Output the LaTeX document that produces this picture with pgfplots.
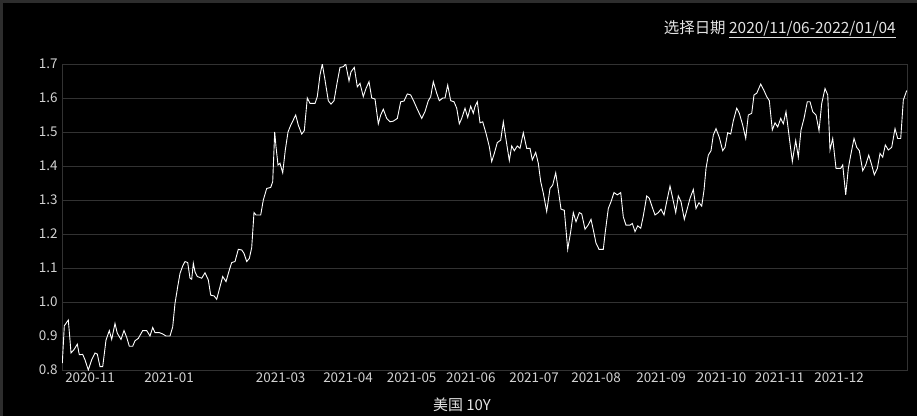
\documentclass[border=0pt]{standalone}
\usepackage{pgfplots}
\pgfplotsset{compat=1.18}
\usepackage{fontspec}
\setmainfont{Noto Sans CJK SC}
\definecolor{bgframe}{RGB}{45,45,45}
\definecolor{gridc}{RGB}{50,50,50}
\definecolor{ticktext}{RGB}{210,210,210}
\definecolor{titletext}{RGB}{228,228,228}
\begin{document}
\begin{tikzpicture}[x=1bp,y=1bp]
\fill[bgframe] (0,0) rectangle (917,416);
\fill[black] (3,0) rectangle (917,413);
\node[anchor=east, text=titletext, font=\fontsize{15.5}{18}\selectfont, inner sep=0pt] at (896,387) {选择日期 \underline{2020/11/06-2022/01/04}};
\node[text=titletext, font=\fontsize{15}{18}\selectfont, inner sep=0pt] at (462,11) {美国 10Y};
\begin{axis}[
  at={(62bp,46bp)}, anchor=south west,
  scale only axis, width=845bp, height=306bp,
  xmin=62, xmax=907, ymin=0.8, ymax=1.7,
  axis line style={gridc, line width=0.8bp},
  ytick={0.8,0.9,1.0,1.1,1.2,1.3,1.4,1.5,1.6,1.7},
  /pgf/number format/fixed, /pgf/number format/fixed zerofill, /pgf/number format/precision=1, /pgf/number format/assume math mode=true,
  yticklabel style={text=ticktext, font=\fontsize{13.5}{16}\selectfont, xshift=-1bp},
  xtick={90,169,280.7,348,411.7,470.8,534,596,661,721.6,779.6,839},
  xticklabels={2020-11,2021-01,2021-03,2021-04,2021-05,2021-06,2021-07,2021-08,2021-09,2021-10,2021-11,2021-12},
  xticklabel style={text=ticktext, font=\fontsize{13.5}{16}\selectfont, yshift=1bp},
  major tick length=0pt,
  ymajorgrids, grid style={gridc, line width=0.8bp},
]
\addplot[white, line width=0.9bp, mark=none] coordinates {
(62.3,0.82)(64.3,0.93)(68.3,0.947)(70,0.888)(71,0.85)(74,0.86)(77.3,0.876)(79.3,0.845)(82.7,0.846)(85,0.83)(88.3,0.80)(91.7,0.83)(95,0.85)(97.3,0.847)(100,0.81)(102.7,0.81)(106,0.888)(109.3,0.916)(111.7,0.89)(115,0.937)(117.3,0.908)(121,0.89)(124,0.916)(126.7,0.896)(129.3,0.87)(132.7,0.87)(135,0.886)(138.3,0.893)(142.7,0.916)(146.7,0.916)(150,0.90)(152.7,0.925)(155,0.91)(159.3,0.91)(162.7,0.906)(166,0.90)(170,0.90)(172.7,0.927)(175,0.996)(177.7,1.045)(180,1.084)(182.7,1.106)(185,1.119)(187.7,1.116)(190,1.07)(191.7,1.067)(193.3,1.114)(195,1.089)(197.3,1.075)(201.7,1.07)(205,1.086)(208.3,1.065)(210.7,1.02)(214,1.018)(216.7,1.008)(220,1.045)(222.7,1.075)(226,1.06)(229.3,1.094)(231.7,1.116)(235,1.119)(238.3,1.155)(241.7,1.153)(244,1.143)(246.7,1.119)(249.3,1.128)(251.7,1.16)(254,1.263)(256,1.256)(260.7,1.256)(263.3,1.30)(266.7,1.334)(270.7,1.337)(272.7,1.354)(274.7,1.50)(276,1.457)(278,1.403)(280,1.408)(282.7,1.38)(285.3,1.447)(288,1.50)(290.7,1.52)(295.7,1.55)(298.3,1.52)(301.7,1.494)(304.3,1.504)
(307.3,1.60)(310,1.584)(315,1.584)(317.3,1.604)(320,1.668)(322.3,1.70)(325,1.653)(328.3,1.592)(331,1.582)(334,1.592)(337.3,1.648)(340,1.69)(343.3,1.692)(345.7,1.70)(349,1.65)(351,1.677)(354.3,1.69)(357.3,1.633)(360,1.643)(363.3,1.604)(366,1.628)(369,1.648)(371.7,1.60)(375,1.597)(378.3,1.524)(380.7,1.55)(383.3,1.567)(386.7,1.54)(390,1.53)(393.3,1.532)(397.3,1.54)(400.7,1.589)(404,1.591)(407.3,1.612)(410.7,1.609)(414,1.589)(417.3,1.567)(421.7,1.54)(425,1.56)(428.3,1.592)(430.7,1.604)(433.3,1.648)(436.7,1.614)(439.3,1.592)(442.7,1.60)(445,1.60)(447.7,1.638)(450.7,1.592)(454,1.589)(456.7,1.57)(459.3,1.524)(461.7,1.54)(465,1.57)(467.7,1.543)(470.7,1.576)(473.3,1.555)(475,1.575)(477.3,1.589)(480,1.527)(482.7,1.53)(486,1.496)(489.3,1.457)(491.7,1.413)(494.3,1.437)(497.3,1.469)(500.7,1.476)(503.3,1.53)(506,1.478)(509.3,1.416)(511.7,1.459)(514.3,1.445)(517.3,1.459)(520,1.452)(523.3,1.498)(526.7,1.452)(530,1.452)(532.3,1.418)(535.7,1.44)(538.3,1.408)(540.7,1.354)(543.3,1.32)(546.7,1.266)(550,1.334)(552.7,1.344)(555.7,1.38)(558.3,1.329)(561,1.273)(564.3,1.27)(567.7,1.155)(570.7,1.207)(573.3,1.263)(576,1.236)(579.3,1.263)(581.7,1.259)(585,1.214)(588.3,1.227)(591,1.243)(593.3,1.212)(596,1.173)(599,1.155)
(603.3,1.155)(605,1.20)(608.3,1.275)(611,1.295)(614,1.322)(617.3,1.315)(620.7,1.322)(623.3,1.25)(626,1.226)(630,1.226)(632.3,1.231)(635,1.207)(637.7,1.224)(640.7,1.217)(643.3,1.253)(646.7,1.312)(649.3,1.305)(652.7,1.275)(655,1.256)(658.3,1.263)(661,1.273)(664,1.256)(666.7,1.295)(670,1.341)(672.7,1.305)(675.7,1.263)(678.3,1.312)(681,1.295)(684.3,1.243)(687.3,1.275)(690,1.305)(693.3,1.331)(696,1.275)(699,1.292)(701.7,1.282)(704,1.329)(706,1.393)(708.3,1.432)(711,1.445)(713.3,1.491)(716,1.51)(719.3,1.484)(722.7,1.445)(725,1.455)(727.7,1.498)(730.7,1.494)(733.3,1.533)(736.7,1.57)(739.3,1.555)(742.7,1.52)(745.7,1.481)(748.3,1.55)(751.7,1.555)(754,1.609)(756.7,1.614)(760.7,1.641)(764,1.622)(766.7,1.604)(769.3,1.592)(772.3,1.506)(775,1.527)(777.7,1.515)(780.7,1.54)(783.3,1.524)(786,1.56)(789,1.49)(792.3,1.413)(795.7,1.475)(798.3,1.426)(801,1.506)(804,1.54)(807.3,1.589)(810,1.589)(812.7,1.56)(816,1.55)(819,1.504)(821.7,1.584)(825,1.628)(827.7,1.609)(830,1.447)(832.7,1.481)(836,1.393)(840.7,1.393)(842.7,1.403)(845.7,1.315)(848.3,1.393)(850.7,1.432)(854,1.481)(856.7,1.455)(859.3,1.445)(862.7,1.386)(865.7,1.403)(868.7,1.432)(871.7,1.403)(874.3,1.374)(877.3,1.393)(880,1.437)(882.7,1.426)(885.3,1.462)(888.3,1.447)(891.7,1.455)(895,1.51)(897.7,1.481)(900.7,1.481)(903.3,1.594)(906.7,1.622)
};
\end{axis}
\end{tikzpicture}
\end{document}
